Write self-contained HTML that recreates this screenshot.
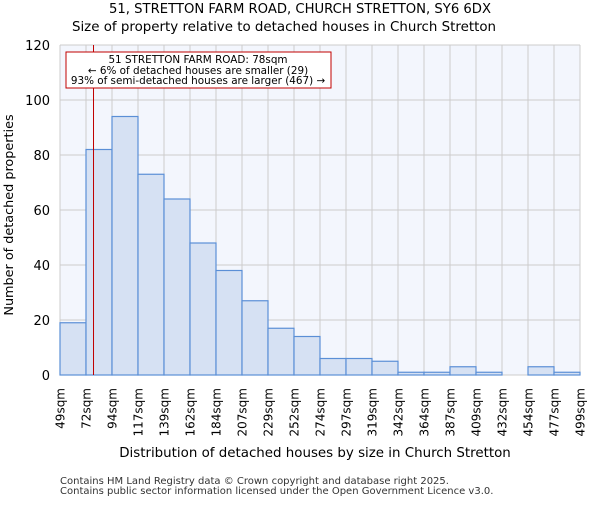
<!DOCTYPE html>
<html><head><meta charset="utf-8"><style>
body{margin:0;background:#fff;font-family:"Liberation Sans","DejaVu Sans",sans-serif;}
</style></head><body>
<svg width="600" height="500" xmlns="http://www.w3.org/2000/svg" font-family="DejaVu Sans, Liberation Sans, sans-serif">
<text x="300" y="13" text-anchor="middle" font-size="13.2">51, STRETTON FARM ROAD, CHURCH STRETTON, SY6 6DX</text>
<text x="284" y="31" text-anchor="middle" font-size="13.4">Size of property relative to detached houses in Church Stretton</text>
<rect x="60" y="45" width="520" height="330" fill="#f3f6fd"/>
<g id="grid"></g><g id="bars"></g><g id="xt"></g><g id="yt"></g>
<text transform="translate(13,215) rotate(-90)" text-anchor="middle" font-size="12.8">Number of detached properties</text>
<text x="315" y="457" text-anchor="middle" font-size="13.4">Distribution of detached houses by size in Church Stretton</text>
<text x="60" y="484" font-size="10" fill="#333">Contains HM Land Registry data © Crown copyright and database right 2025.</text>
<text x="60" y="494" font-size="10" fill="#333">Contains public sector information licensed under the Open Government Licence v3.0.</text>
<line id="marker" y1="45" y2="375" stroke="#c00000" stroke-width="1"/>
<rect x="66" y="52" width="265" height="36" fill="#fff" stroke="#c00000"/>
<text x="198" y="63" text-anchor="middle" font-size="10.4">51 STRETTON FARM ROAD: 78sqm</text>
<text x="198" y="74" text-anchor="middle" font-size="10.4">← 6% of detached houses are smaller (29)</text>
<text x="198" y="84" text-anchor="middle" font-size="10.4">93% of semi-detached houses are larger (467) →</text>
</svg>
<script>
const binLabels=["49sqm","72sqm","94sqm","117sqm","139sqm","162sqm","184sqm","207sqm","229sqm","252sqm","274sqm","297sqm","319sqm","342sqm","364sqm","387sqm","409sqm","432sqm","454sqm","477sqm","499sqm"];
const counts=[19,82,94,73,64,48,38,27,17,14,6,6,5,1,1,3,1,0,3,1];
const yTicks=[0,20,40,60,80,100,120];
const markerSqm=78;
const binEdges=[49,71.5,94,116.5,139,161.5,184,206.5,229,251.5,274,296.5,319,341.5,364,386.5,409,431.5,454,476.5,499];
const NS="http://www.w3.org/2000/svg";
const X0=60,W=520,Y0=375,H=330,YMAX=120;
const xi=i=>X0+i*W/counts.length;
const y=v=>Y0-v/YMAX*H;
function xs(s){for(let i=0;i<binEdges.length-1;i++){if(s<=binEdges[i+1])return xi(i)+(s-binEdges[i])/(binEdges[i+1]-binEdges[i])*W/counts.length;}return X0+W;}
function mk(t,a,p){const e=document.createElementNS(NS,t);for(const k in a)e.setAttribute(k,a[k]);p.appendChild(e);return e;}
const g=document.getElementById('grid'),b=document.getElementById('bars'),xt=document.getElementById('xt'),yt=document.getElementById('yt');
yTicks.forEach(v=>{const l=mk('line',{x1:X0,x2:X0+W,y1:y(v),y2:y(v),stroke:'#cccccc'},g);


const t=mk('text',{x:50,y:y(v)+5,'text-anchor':'end','font-size':13},yt);t.textContent=v;

});
binLabels.forEach((s,i)=>{const x=xi(i);const l=mk('line',{x1:x,x2:x,y1:45,y2:Y0,stroke:'#cccccc'},g);


const t=mk('text',{transform:`translate(${x+4.5},388) rotate(-90)`,'text-anchor':'end','font-size':12},xt);t.textContent=s;

});
counts.forEach((c,i)=>{if(c<=0)return;const r=mk('rect',{x:xi(i),y:y(c),width:W/counts.length,height:Y0-y(c),fill:'#d6e1f3',stroke:'#5b8fd6','stroke-width':1.2},b);

});
const m=document.getElementById('marker');const mx=xs(markerSqm);m.setAttribute('x1',mx);m.setAttribute('x2',mx);
</script>
</body></html>
